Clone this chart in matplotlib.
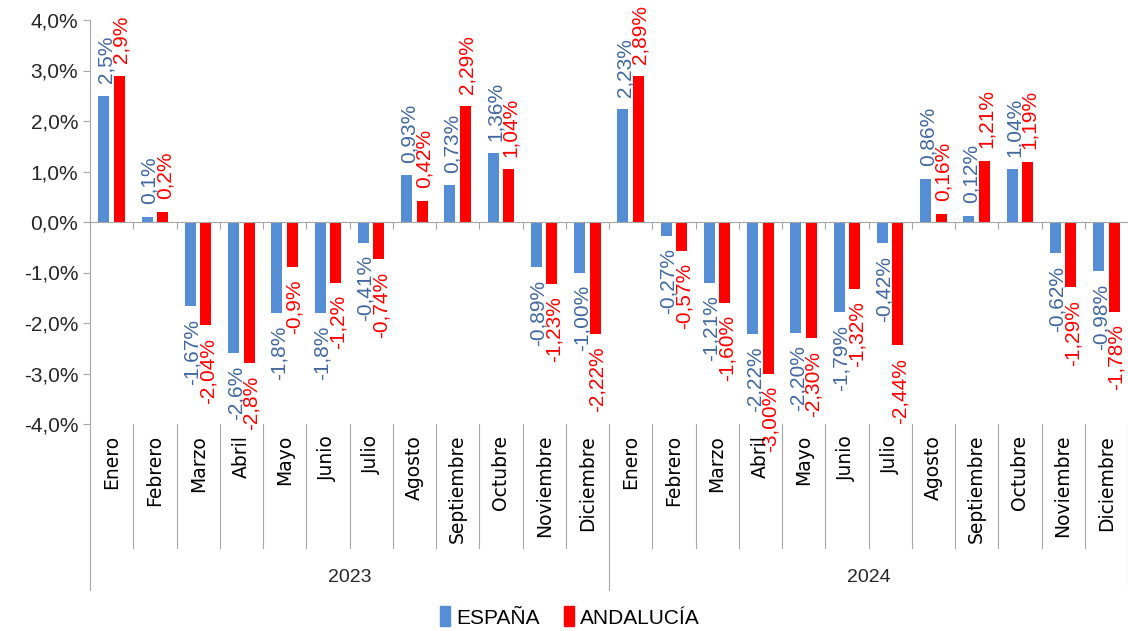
import numpy as np
import matplotlib
matplotlib.use('Agg')
from matplotlib import pyplot as plt
from matplotlib import transforms
from matplotlib.patches import Patch
from matplotlib.ticker import FuncFormatter

months = ['Enero', 'Febrero', 'Marzo', 'Abril', 'Mayo', 'Junio', 'Julio',
          'Agosto', 'Septiembre', 'Octubre', 'Noviembre', 'Diciembre']
years = ['2023', '2024']
categories = months + months

espana = [2.5, 0.1, -1.67, -2.6, -1.8, -1.8, -0.41, 0.93, 0.73, 1.36, -0.89, -1.00,
          2.23, -0.27, -1.21, -2.22, -2.20, -1.79, -0.42, 0.86, 0.12, 1.04, -0.62, -0.98]
andalucia = [2.9, 0.2, -2.04, -2.8, -0.9, -1.2, -0.74, 0.42, 2.29, 1.04, -1.23, -2.22,
             2.89, -0.57, -1.60, -3.00, -2.30, -1.32, -2.44, 0.16, 1.21, 1.19, -1.29, -1.78]

espana_labels = ['2,5%', '0,1%', '-1,67%', '-2,6%', '-1,8%', '-1,8%', '-0,41%', '0,93%',
                 '0,73%', '1,36%', '-0,89%', '-1,00%',
                 '2,23%', '-0,27%', '-1,21%', '-2,22%', '-2,20%', '-1,79%', '-0,42%',
                 '0,86%', '0,12%', '1,04%', '-0,62%', '-0,98%']
andalucia_labels = ['2,9%', '0,2%', '-2,04%', '-2,8%', '-0,9%', '-1,2%', '-0,74%', '0,42%',
                    '2,29%', '1,04%', '-1,23%', '-2,22%',
                    '2,89%', '-0,57%', '-1,60%', '-3,00%', '-2,30%', '-1,32%', '-2,44%',
                    '0,16%', '1,21%', '1,19%', '-1,29%', '-1,78%']

c_esp = '#558ED5'
c_and = '#FF0000'
c_esp_txt = '#41689F'
grey = '#A6A6A6'

plt.rcParams['font.family'] = ['Liberation Sans', 'DejaVu Sans']

fig = plt.figure(figsize=(11.28, 6.31), dpi=100)
ax = fig.add_axes([90 / 1128, 1 - 424 / 631, 1038 / 1128, 404 / 631])

x = np.arange(len(categories))
w = 0.255
off = 0.18
ax.bar(x - off, espana, w, color=c_esp, zorder=2)
ax.bar(x + off, andalucia, w, color=c_and, zorder=2)

for xi, v, lab in zip(x, espana, espana_labels):
    ax.annotate(lab, (xi - off, v), xytext=(1.5, 9 if v >= 0 else -9),
                textcoords='offset points', rotation=90, ha='center',
                va='bottom' if v >= 0 else 'top', color=c_esp_txt, fontsize=15)
for xi, v, lab in zip(x, andalucia, andalucia_labels):
    ax.annotate(lab, (xi + off, v), xytext=(1.5, 9 if v >= 0 else -9),
                textcoords='offset points', rotation=90, ha='center',
                va='bottom' if v >= 0 else 'top', color=c_and, fontsize=15)

ax.set_xlim(-0.5, len(categories) - 0.5)
ax.set_ylim(-4, 4)
ax.set_yticks(np.arange(-4, 4.1, 1))
ax.yaxis.set_major_formatter(FuncFormatter(lambda v, p: ('%.1f%%' % v).replace('.', ',')))
ax.tick_params(axis='y', labelsize=15, colors='#262626', length=5, color=grey)

ax.spines['top'].set_visible(False)
ax.spines['right'].set_visible(False)
ax.spines['left'].set_color(grey)
ax.spines['bottom'].set_position(('data', 0))
ax.spines['bottom'].set_color(grey)
ax.set_xticks(np.arange(-0.5, len(categories), 1))
ax.set_xticklabels([])
ax.tick_params(axis='x', length=5, color=grey, direction='out')

trans = transforms.blended_transform_factory(ax.transData, ax.transAxes)
for i in range(len(categories) + 1):
    b = i - 0.5
    yend = -0.41 if i % 12 == 0 else -0.307
    ax.plot([b, b], [0, yend], color=grey, lw=0.8, transform=trans, clip_on=False)
for xi, name in zip(x, categories):
    ax.text(xi, -0.027, name, transform=trans, rotation=90, ha='center', va='top',
            fontsize=13.5, family=['DejaVu Sans'], color='black')
for k, yr in enumerate(years):
    ax.text(k * 12 + 5.5, -0.381, yr, transform=trans, ha='center', va='center',
            fontsize=14, color='#262626')

handles = [Patch(color=c_esp, label='ESPAÑA'), Patch(color=c_and, label='ANDALUCÍA')]
fig.legend(handles=handles, loc='center', bbox_to_anchor=(570 / 1128, 1 - 617 / 631),
           ncol=2, frameon=False, fontsize=15, handlelength=0.45, handleheight=1.1,
           handletextpad=0.3, columnspacing=1.2)

fig.savefig('out.png', dpi=100)
